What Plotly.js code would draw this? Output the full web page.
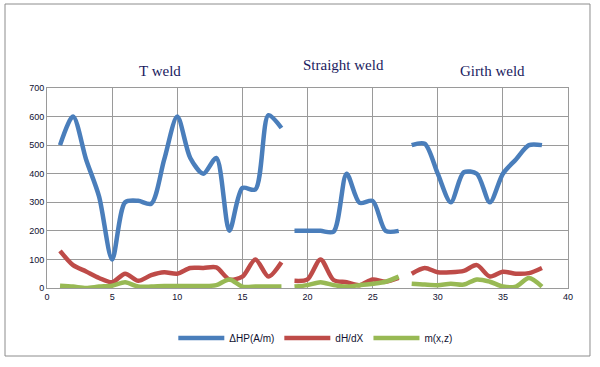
<!DOCTYPE html>
<html>
<head>
<meta charset="utf-8">
<script src="https://cdn.plot.ly/plotly-3.0.1.min.js"></script>
<style>html,body{margin:0;padding:0;background:#fff;}#chart{width:600px;height:367px;}</style>
</head>
<body>
<div id="chart"></div>
<script>
// x positions (measurement points); null separates the three weld segments
const xPoints = [1,2,3,4,5,6,7,8,9,10,11,12,13,14,15,16,17,18,
                 19,20,21,22,23,24,25,26,27,
                 28,29,30,31,32,33,34,35,36,37,38];
const deltaHP = [500,600,450,320,100,300,305,295,450,600,455,400,455,200,350,345,605,560,
                 200,200,200,197,400,298,305,200,200,
                 500,505,400,300,405,400,300,400,450,500,500];
const dHdX    = [130,80,58,35,20,50,25,45,55,50,70,70,72,30,40,100,40,90,
                 25,30,100,28,20,10,30,22,35,
                 50,70,55,55,60,80,40,57,50,52,70];
const mxz     = [8,5,0,5,8,20,5,5,7,7,7,7,10,30,5,5,5,5,
                 5,10,20,10,5,10,15,22,40,
                 15,12,10,15,12,30,22,5,5,35,5];
const segmentEnds = [18, 27];   // last x of T weld and Straight weld
const seriesNames = ['ΔHP(A/m)', 'dH/dX', 'm(x,z)'];
const segmentTitles = ['T weld', 'Straight weld', 'Girth weld'];
const xTickVals = [0,5,10,15,20,25,30,35,40];
const yTickVals = [0,100,200,300,400,500,600,700];

function withGaps(vals){
  const xs = [], ys = [];
  xPoints.forEach((x,i)=>{
    xs.push(x); ys.push(vals[i]);
    if (segmentEnds.includes(x)) { xs.push(x+0.5); ys.push(null); }
  });
  return {xs, ys};
}
const colors = ['#4a7ebb','#be4b48','#98b954'];
const traces = [deltaHP, dHdX, mxz].map((v,k)=>{
  const g = withGaps(v);
  return {x:g.xs, y:g.ys, type:'scatter', mode:'lines', name:seriesNames[k],
          connectgaps:false, line:{color:colors[k], width:4.5, shape:'spline', smoothing:0.8}};
});

const titleFont = {family:'Liberation Serif, serif', size:15, color:'#1a1a5e'};
const tickFont = {family:'Liberation Sans, Arial, sans-serif', size:9, color:'#101030'};
const layout = {
  width:600, height:367,
  margin:{l:47, r:32, t:88, b:79},
  paper_bgcolor:'#fff', plot_bgcolor:'#fff',
  showlegend:true,
  legend:{orientation:'h', x:0.515, xanchor:'center', y:-0.25, yanchor:'middle',
          font:{family:'Liberation Sans, Arial, sans-serif', size:10, color:'#101030'},
          itemwidth:46, tracegroupgap:0},
  xaxis:{range:[0,40], tickvals:xTickVals, showgrid:true, gridcolor:'#9a9a9a', gridwidth:1,
         zeroline:false, showline:true, linecolor:'#9a9a9a', mirror:true, ticks:'',
         tickfont:tickFont, fixedrange:true},
  yaxis:{range:[0,700], tickvals:yTickVals, showgrid:true, gridcolor:'#9a9a9a', gridwidth:1,
         zeroline:false, showline:true, linecolor:'#9a9a9a', mirror:true, ticks:'',
         tickfont:tickFont, fixedrange:true},
  annotations:[
    {text:segmentTitles[0], x:8.7, y:1.135, xref:'x', yref:'paper', showarrow:false, font:titleFont},
    {text:segmentTitles[1], x:22.8, y:1.165, xref:'x', yref:'paper', showarrow:false, font:titleFont},
    {text:segmentTitles[2], x:34.2, y:1.135, xref:'x', yref:'paper', showarrow:false, font:titleFont}
  ],
  shapes:[{type:'rect', xref:'paper', yref:'paper', x0:-0.0806, x1:1.0422, y0:-0.34, y1:1.42,
           line:{color:'#8c8c8c', width:1}, layer:'below'}]
};
Plotly.newPlot('chart', traces, layout, {displayModeBar:false, staticPlot:true});
</script>
</body>
</html>
